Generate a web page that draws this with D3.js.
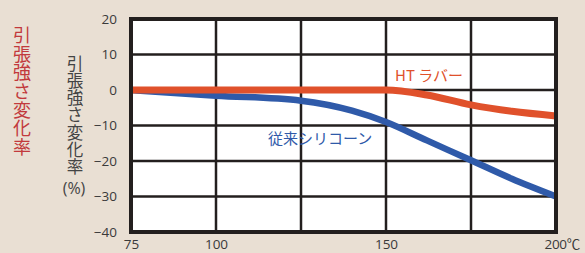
<!DOCTYPE html>
<html><head><meta charset="utf-8">
<script src="https://cdn.jsdelivr.net/npm/d3@7"></script>
<style>
html,body{margin:0;padding:0;background:#e9dfd3;}
svg{display:block;}
</style></head>
<body>
<svg id="chart" width="585" height="253"></svg>
<script>
const xTicks = [75, 100, 150, 200];
const xGrid = [75, 100, 125, 150, 175, 200];
const yTicks = [20, 10, 0, -10, -20, -30, -40];
const temps = [75, 100, 125, 140, 150, 162, 175, 187, 200];
const htRubber = [0, 0, 0, 0, 0, -1.4, -4.2, -6.0, -7.3];
const siliconeTemps = [75, 100, 125, 140, 150, 162, 175, 187, 200];
const silicone = [0, -1.6, -3.0, -5.8, -9.0, -14.2, -19.8, -25.0, -30];
const axisTitle = "引張強さ変化率";
const sideTitle = "引張強さ変化率";
const unitLabel = "(%)";
const tempUnit = "℃";
const seriesNames = ["HT ラバー", "従来シリコーン"];

const svg = d3.select("#chart");
const x = d3.scaleLinear().domain([75, 200]).range([131, 556]);
const y = d3.scaleLinear().domain([-40, 20]).range([232, 19]);
const fontNum = "'Open Sans','Noto Sans CJK JP',sans-serif";
const fontJp = "'Noto Sans CJK JP',sans-serif";

svg.append("rect").attr("x", x(75)).attr("y", y(20))
  .attr("width", x(200) - x(75)).attr("height", y(-40) - y(20)).attr("fill", "#fff");

// grid
svg.append("g").selectAll("line").data(yTicks.filter(d => d !== 20 && d !== -40)).join("line")
  .attr("x1", x(75)).attr("x2", x(200)).attr("y1", d => y(d)).attr("y2", d => y(d))
  .attr("stroke", "#231f1e").attr("stroke-width", 2.5);
svg.append("g").selectAll("line").data(xGrid.filter(d => d !== 75 && d !== 200)).join("line")
  .attr("y1", y(20)).attr("y2", y(-40)).attr("x1", d => x(d)).attr("x2", d => x(d))
  .attr("stroke", "#231f1e").attr("stroke-width", 2.5);

// lines
const lineS = d3.line().x((d, i) => x(siliconeTemps[i])).y(d => y(d)).curve(d3.curveMonotoneX);
const lineH = d3.line().x((d, i) => x(temps[i])).y(d => y(d)).curve(d3.curveMonotoneX);
svg.append("path").attr("d", lineS(silicone)).attr("fill", "none")
  .attr("stroke", "#2f5aa9").attr("stroke-width", 6.5);
svg.append("path").attr("d", lineH(htRubber)).attr("fill", "none")
  .attr("stroke", "#e0512b").attr("stroke-width", 7);

// border
svg.append("rect").attr("x", x(75)).attr("y", y(20))
  .attr("width", x(200) - x(75)).attr("height", y(-40) - y(20))
  .attr("fill", "none").attr("stroke", "#231f1e").attr("stroke-width", 4);

// axes labels
const yAxis = d3.axisLeft(y).tickValues(yTicks).tickSize(0).tickPadding(14);
const gy = svg.append("g").attr("transform", `translate(${x(75)},0)`).call(yAxis);
gy.select(".domain").remove();
gy.selectAll("text").attr("font-family", fontNum).attr("font-size", 13.5).attr("fill", "#3a3a3a");

const xAxis = d3.axisBottom(x).tickValues(xTicks).tickSize(0).tickPadding(7)
  .tickFormat(d => d === 200 ? d + tempUnit : d);
const gx = svg.append("g").attr("transform", `translate(0,${y(-40)})`).call(xAxis);
gx.select(".domain").remove();
gx.selectAll("text").attr("font-family", fontNum).attr("font-size", 13.5).attr("fill", "#3a3a3a");
gx.selectAll(".tick").filter(d => d === 200).select("text")
  .attr("text-anchor", "start").attr("x", -12).style("letter-spacing", "-0.3px");

// red side title (vertical)
svg.append("text").attr("x", 22).attr("y", 26)
  .style("writing-mode", "vertical-rl").style("letter-spacing", "0.7px")
  .attr("font-family", fontJp).attr("font-size", 18)
  .attr("fill", "#c2393c").text(sideTitle);

// gray axis title (vertical)
svg.append("text").attr("x", 75).attr("y", 55)
  .style("writing-mode", "vertical-rl").style("letter-spacing", "0.8px")
  .attr("font-family", fontJp).attr("font-size", 16.5)
  .attr("fill", "#444").text(axisTitle);
svg.append("text").attr("x", 74).attr("y", 188).attr("dy", "0.36em")
  .attr("text-anchor", "middle").attr("font-family", fontNum).attr("font-size", 16)
  .attr("fill", "#444").text(unitLabel);

// series labels
svg.append("text").attr("x", 395).attr("y", 81).attr("font-family", fontJp)
  .attr("font-size", 15).attr("fill", "#e0512b").text(seriesNames[0]);
svg.append("text").attr("x", 268).attr("y", 144).attr("font-family", fontJp)
  .attr("font-size", 15).attr("fill", "#2f5aa9").text(seriesNames[1]);
</script>
</body></html>
